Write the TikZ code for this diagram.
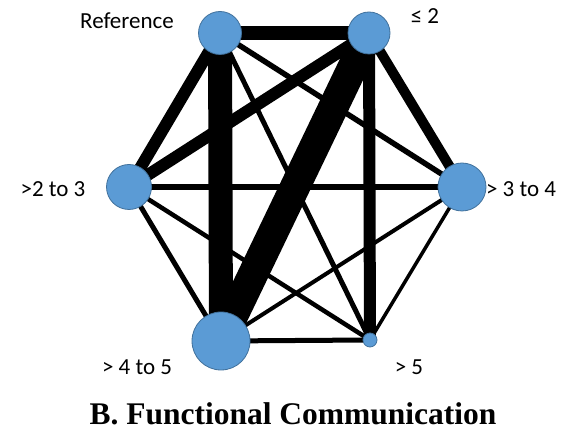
\documentclass[tikz,border=0pt]{standalone}
\usepackage{fontspec}
\setmainfont{Liberation Serif}
\newfontfamily\labfont{Carlito}
\usetikzlibrary{backgrounds}
\definecolor{nodefill}{HTML}{5B9BD5}
\definecolor{nodeline}{HTML}{41719C}
\tikzset{
  vert/.style={circle, inner sep=0pt, fill=nodefill, draw=nodeline, line width=0.8pt, minimum size=#1},
  lbl/.style={anchor=base, inner sep=0pt, font=\labfont\fontsize{23}{26}\selectfont},
  edge/.style={line width=#1, black}
}
\begin{document}
\begin{tikzpicture}[x=1pt, y={(0pt,-1pt)}]
\useasboundingbox (0,0) rectangle (584,443);
\node[vert=43pt] (ref) at (220,33) {};
\node[vert=42pt] (le) at (369,33) {};
\node[vert=45pt] (a) at (129,187) {};
\node[vert=48pt] (b) at (462,187) {};
\node[vert=58pt] (c) at (221,341) {};
\node[vert=14pt] (d) at (370,340) {};
\begin{pgfonlayer}{background}
\draw[edge=14pt] (ref.center) -- (le.center);
\draw[edge=12pt] (ref.center) -- (a.center);
\draw[edge=5.5pt] (ref.center) -- (b.center);
\draw[edge=24pt] (ref.center) -- (c.center);
\draw[edge=5pt] (ref.center) -- (d.center);
\draw[edge=12pt] (le.center) -- (a.center);
\draw[edge=10pt] (le.center) -- (b.center);
\draw[edge=30pt] (le.center) -- (c.center);
\draw[edge=12pt] (le.center) -- (d.center);
\draw[edge=6pt] (a.center) -- (b.center);
\draw[edge=5pt] (a.center) -- (c.center);
\draw[edge=4.5pt] (a.center) -- (d.center);
\draw[edge=4pt] (b.center) -- (c.center);
\draw[edge=3.5pt] (b.center) -- (d.center);
\draw[edge=5pt] (c.center) -- (d.center);
\end{pgfonlayer}
\node[lbl] (tref) at (127,29) {Reference};
\node[lbl] (tle) at (425,24) {≤ 2};
\node[lbl] (ta) at (53,197) {>2 to 3};
\node[lbl] (tb) at (521,197) {> 3 to 4};
\node[lbl] (tc) at (137,375) {> 4 to 5};
\node[lbl] (td) at (409,375) {> 5};
\node[anchor=base, inner sep=0pt, font=\bfseries\fontsize{31.5}{34}\selectfont] (title) at (293,425) {B. Functional Communication};
\end{tikzpicture}
\end{document}
